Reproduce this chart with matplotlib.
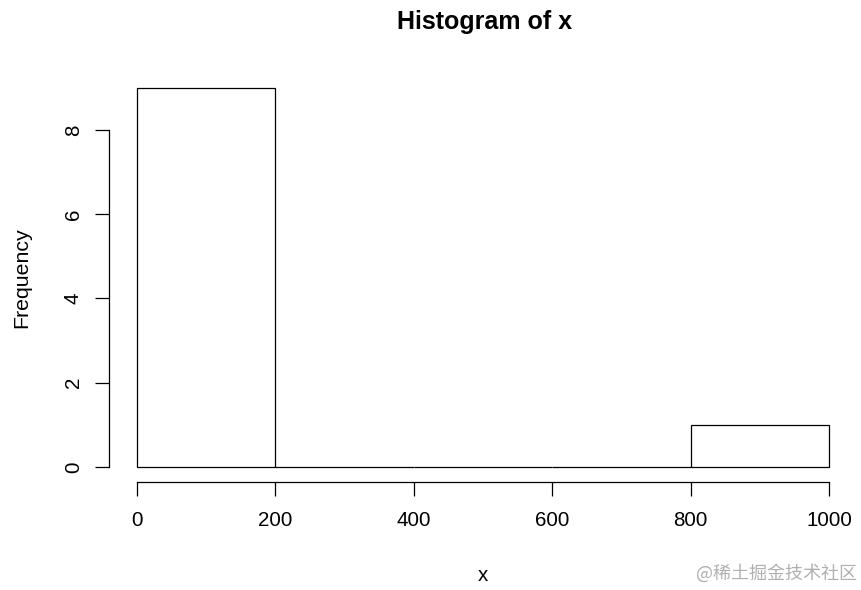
import numpy as np
import matplotlib.pyplot as plt

plt.rcParams['font.family'] = ['Liberation Sans', 'DejaVu Sans']

# histogram bins and counts
bin_edges = [0, 200, 400, 600, 800, 1000]
counts = [9, 0, 0, 0, 1]
x_ticks = [0, 200, 400, 600, 800, 1000]
y_ticks = [0, 2, 4, 6, 8]

fig = plt.figure(figsize=(8.62, 5.9), dpi=100)
ax = fig.add_axes([0.1268, 0.1831, 0.8671, 0.6937])

left = np.array(bin_edges[:-1])
widths = np.diff(bin_edges)
ax.bar(left, counts, width=widths, align='edge', facecolor='white',
       edgecolor='black', linewidth=0.9)

ax.set_xlim(-40, 1040)
ax.set_ylim(-0.36, 9.36)

for s in ['top', 'right']:
    ax.spines[s].set_visible(False)
ax.spines['left'].set_bounds(0, 8)
ax.spines['bottom'].set_bounds(0, 1000)
ax.spines['left'].set_linewidth(0.9)
ax.spines['bottom'].set_linewidth(0.9)

ax.set_xticks(x_ticks)
ax.set_yticks(y_ticks)
ax.tick_params(axis='both', length=10, width=0.9, labelsize=14.8)
ax.tick_params(axis='x', pad=11)
ax.tick_params(axis='y', pad=9, labelrotation=90)
for lab in ax.get_yticklabels():
    lab.set_va('center')

fig.text(0.562, 0.962, 'Histogram of x', ha='center', va='center',
         fontsize=18, fontweight='bold')
fig.text(0.56, 0.025, 'x', ha='center', va='center', fontsize=14.8)
fig.text(0.025, 0.53, 'Frequency', ha='center', va='center',
         rotation=90, fontsize=15.3)

fig.text(0.994, 0.029, '@稀土掘金技术社区', ha='right', va='center',
         fontsize=13, color='#b0b0b0',
         family=['Noto Sans CJK SC', 'DejaVu Sans'])

fig.savefig('out.png', dpi=100)
